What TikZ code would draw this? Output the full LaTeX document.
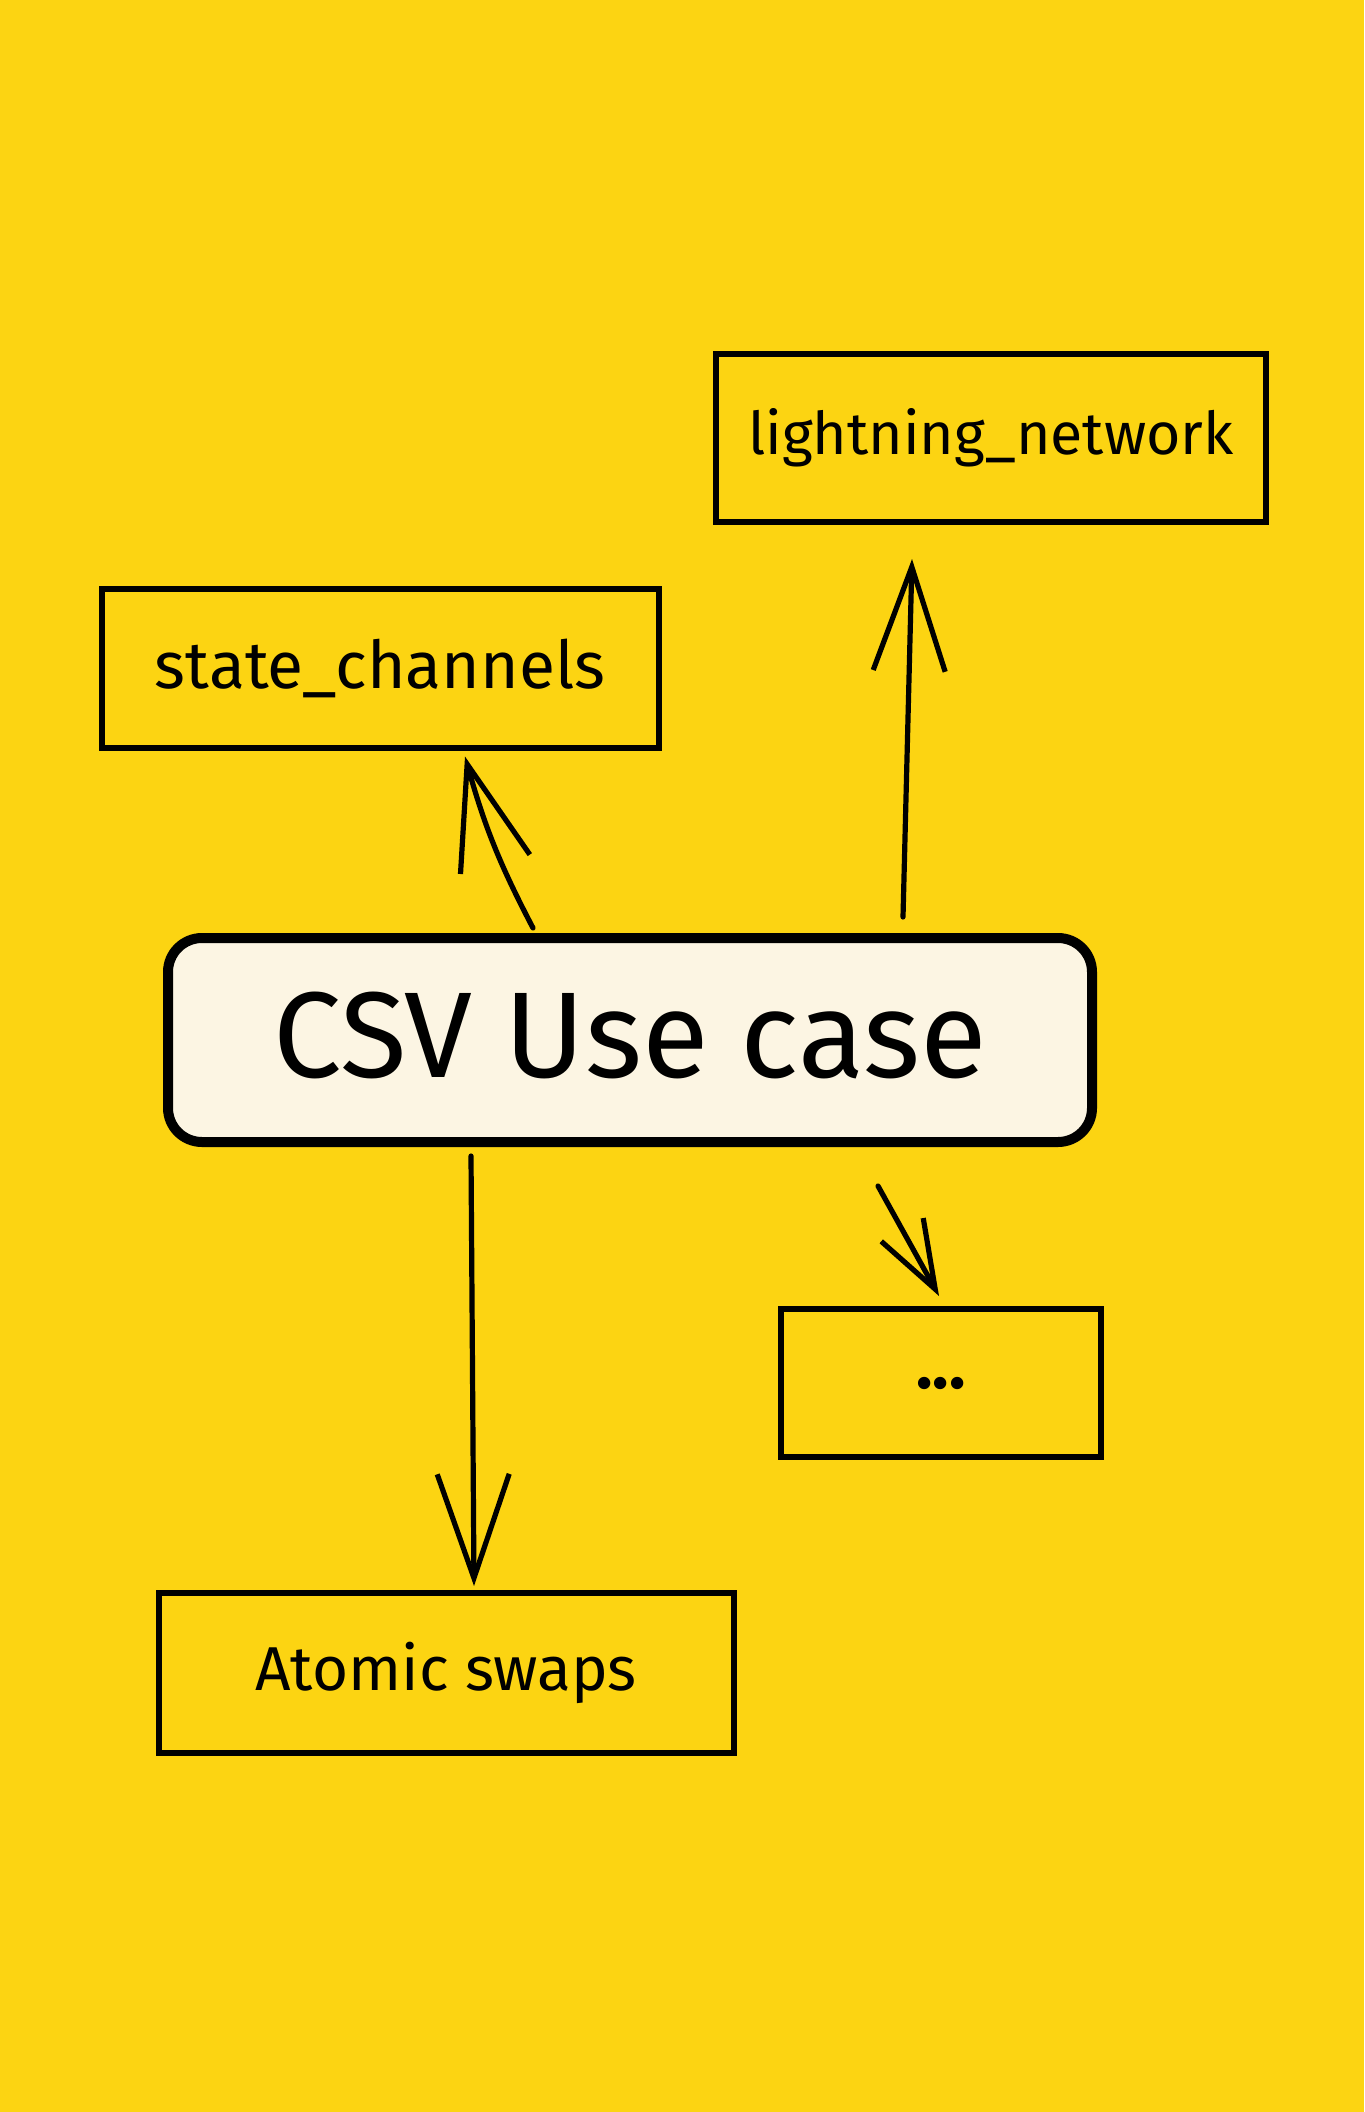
\documentclass[tikz,border=0pt]{standalone}
\usepackage{fontspec}
\setmainfont{Fira Sans}
\usetikzlibrary{arrows.meta}
\definecolor{bgyellow}{HTML}{FCD412}
\definecolor{cream}{HTML}{FCF5E3}
\begin{document}
\begin{tikzpicture}[x=0.5pt,y=-0.5pt,
  plainbox/.style={draw=black,line width=3pt,minimum width=#1,inner sep=0pt,font=\fontsize{31}{36}\selectfont},
  mainbox/.style={draw=black,fill=cream,line width=5pt,rounded corners=17pt,minimum width=462pt,minimum height=102pt,inner sep=0pt,font=\fontsize{61}{70}\selectfont},
  arr/.style={line width=2.6pt,line cap=round,-{Straight Barb[length=52pt,width=36pt,line width=2.6pt]}},
  smallarr/.style={line width=2.6pt,line cap=round,-{Straight Barb[length=34pt,width=24pt,line width=2.6pt]}}
]
\fill[bgyellow] (0,0) rectangle (1364,2112);
\useasboundingbox (0,0) rectangle (1364,2112);

\node[plainbox=275pt,minimum height=84pt] (ln) at (991,438) {\fontsize{29.5}{35}\selectfont lightning\_network};
\node[plainbox=278.5pt,minimum height=79.5pt] (sc) at (380,668) {\fontsize{33}{38}\selectfont state\_channels};
\node[mainbox] (csv) at (630,1040) {\raisebox{5pt}{CSV Use case}};
\node[plainbox=160pt,minimum height=74pt] (dots) at (941,1383) {\fontsize{34}{38}\selectfont\textbf{...}};
\node[plainbox=287.5pt,minimum height=80pt] (as) at (446,1673) {Atomic swaps\hspace{15pt}};

\draw[arr] ([xshift=-48.5pt,yshift=2.5pt]csv.north) to[bend left=6] ([xshift=42.5pt,yshift=-3pt]sc.south);
\draw[arr] ([xshift=136.5pt,yshift=8pt]csv.north) -- ([xshift=-39.5pt,yshift=-17pt]ln.south);
\draw[arr] ([xshift=-79.5pt,yshift=-4.5pt]csv.south) -- ([xshift=14pt,yshift=2pt]as.north);
\draw[smallarr] ([xshift=124pt,yshift=-19.5pt]csv.south) -- ([xshift=-1pt,yshift=5pt]dots.north);
\end{tikzpicture}
\end{document}
